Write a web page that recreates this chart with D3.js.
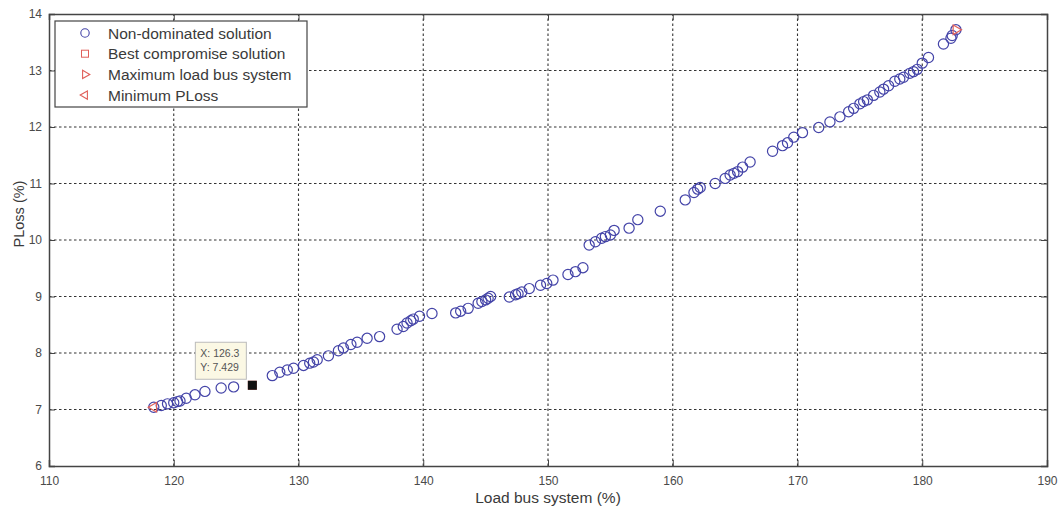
<!DOCTYPE html>
<html>
<head>
<meta charset="utf-8">
<script src="https://cdn.jsdelivr.net/npm/d3@7"></script>
<style>
  body { margin: 0; background: #fff; }
  svg { display: block; font-family: "Liberation Sans", Arial, sans-serif; }
</style>
</head>
<body>
<svg width="1063" height="512"></svg>
<script>
// Pareto front: load bus system (%) vs PLoss (%)
const loadBus = [118.4, 119.0, 119.5, 120.0, 120.3, 120.5, 121.0, 121.7, 122.5, 123.8, 124.8,
  127.9, 128.5, 129.1, 129.6, 130.4, 130.9, 131.2, 131.5, 132.4, 133.2, 133.6, 134.2, 134.7, 135.5, 136.5,
  137.9, 138.4, 138.7, 139.0, 139.2, 139.7, 140.7, 142.6, 143.0, 143.6, 144.4, 144.7, 145.0, 145.2, 145.4,
  146.9, 147.4, 147.6, 147.9, 148.5, 149.4, 149.9, 150.4, 151.6, 152.2, 152.8,
  153.3, 153.8, 154.3, 154.6, 155.0, 155.3, 156.5, 157.2, 159.0,
  161.0, 161.7, 162.0, 162.2, 163.4, 164.2, 164.6, 164.9, 165.2, 165.6, 166.2,
  168.0, 168.8, 169.2, 169.7, 170.4, 171.7, 172.6, 173.4, 174.1, 174.5, 175.0, 175.3, 175.6, 176.1, 176.6,
  176.9, 177.3, 177.8, 178.2, 178.5, 179.0, 179.3, 179.6, 180.0, 180.5, 181.7, 182.3, 182.4, 182.7];
const pLoss = [7.04, 7.07, 7.10, 7.12, 7.14, 7.15, 7.20, 7.26, 7.32, 7.38, 7.40,
  7.60, 7.66, 7.70, 7.73, 7.78, 7.82, 7.84, 7.88, 7.95, 8.04, 8.09, 8.15, 8.19, 8.26, 8.29,
  8.42, 8.47, 8.53, 8.57, 8.60, 8.65, 8.70, 8.71, 8.74, 8.79, 8.88, 8.91, 8.94, 8.97, 9.00,
  8.99, 9.03, 9.05, 9.08, 9.14, 9.20, 9.23, 9.29, 9.39, 9.44, 9.51,
  9.91, 9.97, 10.03, 10.06, 10.09, 10.17, 10.21, 10.36, 10.51,
  10.71, 10.84, 10.90, 10.93, 11.00, 11.09, 11.15, 11.18, 11.21, 11.29, 11.38,
  11.57, 11.67, 11.72, 11.82, 11.90, 11.99, 12.09, 12.18, 12.27, 12.33, 12.41, 12.45, 12.48, 12.56, 12.62,
  12.67, 12.73, 12.81, 12.85, 12.88, 12.95, 12.98, 13.02, 13.13, 13.23, 13.47, 13.57, 13.62, 13.72];

const bestCompromise = [126.3, 7.429];
const maxLoadBus = [182.7, 13.72];
const minPLoss = [118.4, 7.04];

const xTicks = [110, 120, 130, 140, 150, 160, 170, 180, 190];
const yTicks = [6, 7, 8, 9, 10, 11, 12, 13, 14];
const legendLabels = ["Non-dominated solution", "Best compromise solution", "Maximum load bus system", "Minimum PLoss"];

const width = 1063, height = 512;
const margin = { top: 14, right: 16, bottom: 46, left: 49 };
const blue = "#4444a8", red = "#e0605a", axisCol = "#444", textCol = "#3a3a3a";

const x = d3.scaleLinear().domain([110, 190]).range([margin.left, width - margin.right]);
const y = d3.scaleLinear().domain([6, 14]).range([height - margin.bottom, margin.top]);

const svg = d3.select("svg");

// grid (dotted, MATLAB style)
svg.append("g").selectAll("line").data(xTicks.slice(1, -1)).join("line")
  .attr("x1", d => x(d)).attr("x2", d => x(d))
  .attr("y1", y(6)).attr("y2", y(14))
  .attr("stroke", "#333").attr("stroke-width", 1.1).attr("stroke-dasharray", "2.5,2.5");
svg.append("g").selectAll("line").data(yTicks.slice(1, -1)).join("line")
  .attr("y1", d => y(d)).attr("y2", d => y(d))
  .attr("x1", x(110)).attr("x2", x(190))
  .attr("stroke", "#333").attr("stroke-width", 1.1).attr("stroke-dasharray", "2.5,2.5");

// axes with inward ticks
svg.append("g").attr("transform", `translate(0,${y(6)})`)
  .call(d3.axisBottom(x).tickValues(xTicks).tickSize(-6).tickPadding(10));
svg.append("g").attr("transform", `translate(${x(110)},0)`)
  .call(d3.axisLeft(y).tickValues(yTicks).tickSize(-6).tickPadding(7));
svg.append("g").attr("transform", `translate(0,${y(14)})`)
  .call(d3.axisTop(x).tickValues(xTicks).tickSize(-6).tickFormat(""));
svg.append("g").attr("transform", `translate(${x(190)},0)`)
  .call(d3.axisRight(y).tickValues(yTicks).tickSize(-6).tickFormat(""));
svg.selectAll(".domain").attr("stroke", axisCol).attr("stroke-width", 1.5);
svg.selectAll(".tick line").attr("stroke", axisCol);
svg.selectAll(".tick text").attr("fill", "#4a4a4a").style("font-size", "12px")
  .style("font-family", "Liberation Sans, Arial, sans-serif");

// axis titles
svg.append("text").attr("x", (x(110) + x(190)) / 2).attr("y", 503)
  .attr("text-anchor", "middle").attr("fill", textCol).style("font-size", "15.5px")
  .text("Load bus system (%)");
svg.append("text").attr("transform", `translate(24,${y(10) - 26}) rotate(-90)`)
  .attr("text-anchor", "middle").attr("fill", textCol).style("font-size", "14.5px")
  .text("PLoss (%)");

// non-dominated solutions
svg.append("g").selectAll("circle").data(loadBus).join("circle")
  .attr("cx", d => x(d)).attr("cy", (d, i) => y(pLoss[i])).attr("r", 5.1)
  .attr("fill", "none").attr("stroke", blue).attr("stroke-width", 1.2);

// special solutions
const tri = d3.symbol().type(d3.symbolTriangle).size(40);
svg.append("path").attr("d", tri)
  .attr("transform", `translate(${x(maxLoadBus[0])},${y(maxLoadBus[1])}) rotate(90)`)
  .attr("fill", "none").attr("stroke", red).attr("stroke-width", 1.2);
svg.append("path").attr("d", tri)
  .attr("transform", `translate(${x(minPLoss[0])},${y(minPLoss[1])}) rotate(-90)`)
  .attr("fill", "none").attr("stroke", red).attr("stroke-width", 1.2);
svg.append("rect")
  .attr("x", x(bestCompromise[0]) - 4).attr("y", y(bestCompromise[1]) - 4)
  .attr("width", 8).attr("height", 8).attr("fill", "none").attr("stroke", red);

// data tip
const bx = x(bestCompromise[0]), by = y(bestCompromise[1]);
svg.append("rect").attr("x", bx - 4.5).attr("y", by - 4.5).attr("width", 9).attr("height", 9).attr("fill", "#111");
const tip = svg.append("g").attr("transform", `translate(${bx - 57},${by - 43})`);
tip.append("rect").attr("width", 51).attr("height", 37)
  .attr("fill", "#fbf8e4").attr("stroke", "#bbb");
tip.append("text").attr("x", 5).attr("y", 15).attr("fill", "#555").style("font-size", "10.5px")
  .text(`X: ${bestCompromise[0]}`);
tip.append("text").attr("x", 5).attr("y", 29).attr("fill", "#555").style("font-size", "10.5px")
  .text(`Y: ${bestCompromise[1]}`);

// legend
const lg = svg.append("g").attr("transform", "translate(55,21)");
lg.append("rect").attr("width", 252).attr("height", 86)
  .attr("fill", "#fff").attr("stroke", axisCol).attr("stroke-width", 1.2);
const rows = lg.selectAll("g.row").data(legendLabels).join("g")
  .attr("transform", (d, i) => `translate(0,${12 + i * 20.7})`);
rows.append("text").attr("x", 53).attr("y", 5.5).attr("fill", textCol)
  .style("font-size", "15.5px").text(d => d);
lg.append("circle").attr("cx", 30).attr("cy", 12).attr("r", 4.2)
  .attr("fill", "none").attr("stroke", blue).attr("stroke-width", 1.1);
lg.append("rect").attr("x", 26.5).attr("y", 12 + 20.7 - 3.5).attr("width", 7).attr("height", 7)
  .attr("fill", "none").attr("stroke", red);
lg.append("path").attr("d", d3.symbol().type(d3.symbolTriangle).size(30))
  .attr("transform", `translate(30,${12 + 2 * 20.7}) rotate(90)`)
  .attr("fill", "none").attr("stroke", red).attr("stroke-width", 1.1);
lg.append("path").attr("d", d3.symbol().type(d3.symbolTriangle).size(30))
  .attr("transform", `translate(30,${12 + 3 * 20.7}) rotate(-90)`)
  .attr("fill", "none").attr("stroke", red).attr("stroke-width", 1.1);
</script>
</body>
</html>
